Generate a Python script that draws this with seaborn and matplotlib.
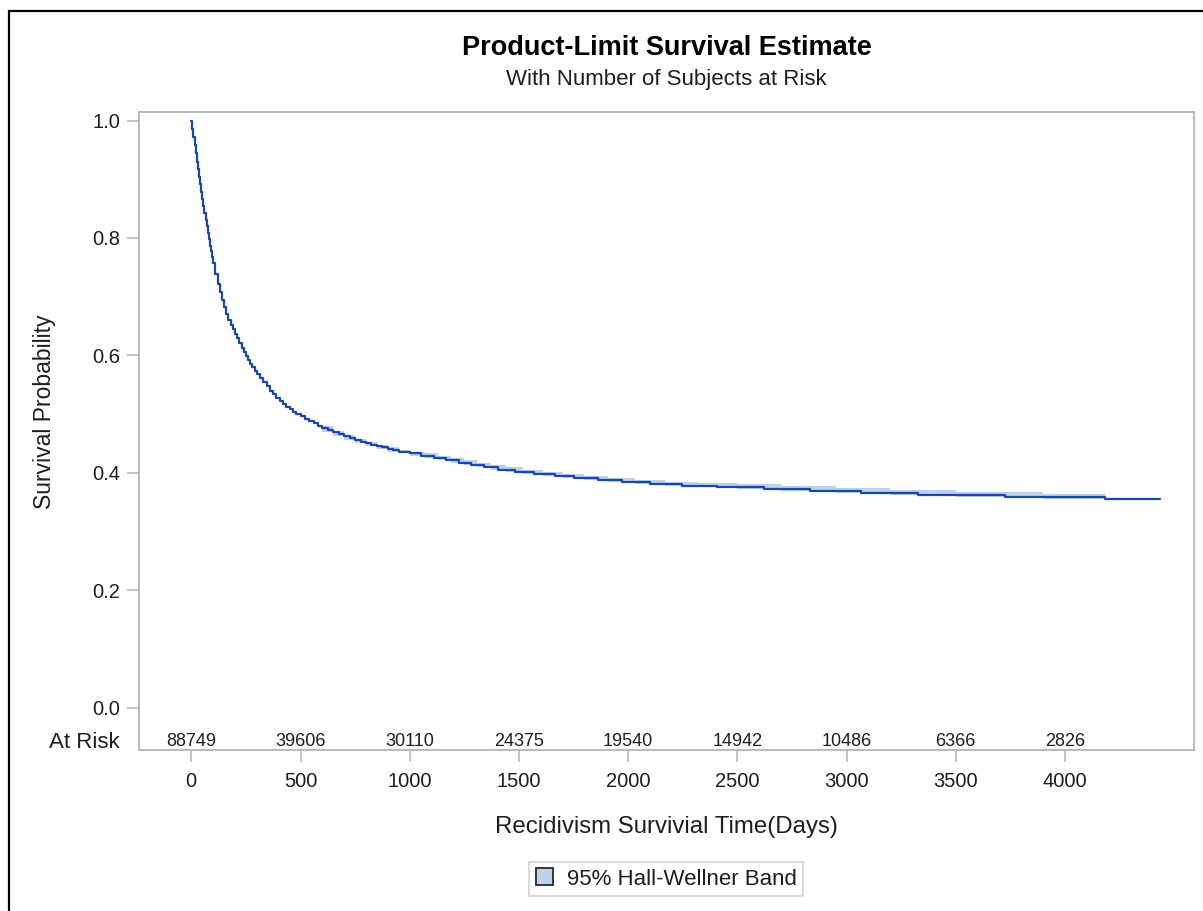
import matplotlib
matplotlib.use("Agg")
import matplotlib.pyplot as plt
from matplotlib.patches import Patch, Rectangle
from matplotlib.ticker import FormatStrFormatter
import pandas as pd
import seaborn as sns

# Kaplan-Meier estimate (days, survival probability)
surv_time = [0, 5, 10, 15, 20, 25, 30, 35, 40, 45,
             50, 55, 60, 65, 70, 75, 80, 85, 90, 95,
             100, 110, 120, 130, 140, 150, 160, 170, 180, 190,
             200, 210, 220, 230, 240, 250, 260, 270, 280, 290,
             300, 315, 330, 345, 360, 375, 390, 405, 420, 435,
             450, 465, 480, 500, 520, 540, 560, 580, 600, 625,
             650, 675, 700, 725, 750, 775, 800, 825, 850, 875,
             900, 925, 950, 975, 1000, 1050, 1110, 1165, 1225, 1280,
             1340, 1405, 1480, 1570, 1665, 1750, 1860, 1970, 2100, 2245,
             2405, 2620, 2833, 3066, 3327, 3727, 4184, 4436]
surv_prob = [1.000, 0.986, 0.972, 0.958, 0.944, 0.930, 0.917, 0.904, 0.891, 0.878,
             0.866, 0.854, 0.842, 0.831, 0.820, 0.809, 0.798, 0.787, 0.777, 0.767,
             0.757, 0.739, 0.721, 0.707, 0.694, 0.682, 0.670, 0.661, 0.652, 0.644,
             0.637, 0.629, 0.621, 0.613, 0.605, 0.598, 0.592, 0.586, 0.580, 0.574,
             0.569, 0.561, 0.554, 0.547, 0.540, 0.534, 0.528, 0.522, 0.517, 0.512,
             0.508, 0.504, 0.500, 0.496, 0.492, 0.488, 0.484, 0.480, 0.477, 0.473,
             0.469, 0.4655, 0.462, 0.459, 0.456, 0.453, 0.450, 0.4475, 0.445, 0.443,
             0.441, 0.4385, 0.436, 0.4345, 0.433, 0.429, 0.425, 0.421, 0.417, 0.413,
             0.409, 0.405, 0.401, 0.3975, 0.394, 0.3905, 0.387, 0.384, 0.381, 0.378,
             0.375, 0.372, 0.369, 0.366, 0.3625, 0.359, 0.3547, 0.3547]

# 95% Hall-Wellner confidence band
band_time = [600, 650, 700, 750, 800, 850, 900, 950, 1000,
             1070, 1130, 1190, 1250, 1310, 1370, 1440, 1520, 1610, 1700,
             1800, 1910, 2030, 2170, 2320, 2500, 2700, 2950, 3200, 3500,
             3900, 4184]
band_upper = [0.479, 0.471, 0.464, 0.458, 0.452, 0.447, 0.443, 0.438, 0.436,
              0.433, 0.429, 0.425, 0.421, 0.417, 0.413, 0.409, 0.405, 0.4015, 0.398,
              0.3945, 0.391, 0.388, 0.385, 0.383, 0.380, 0.377, 0.374, 0.371, 0.3675,
              0.364, 0.364]
band_lower = [0.469, 0.462, 0.456, 0.450, 0.445, 0.441, 0.436, 0.433, 0.429,
              0.425, 0.421, 0.417, 0.413, 0.409, 0.405, 0.401, 0.3975, 0.394, 0.3905,
              0.387, 0.384, 0.381, 0.378, 0.375, 0.372, 0.369, 0.366, 0.3625, 0.359,
              0.3547, 0.3547]

# Number of subjects at risk
risk_time = [0, 500, 1000, 1500, 2000, 2500, 3000, 3500, 4000]
risk_count = [88749, 39606, 30110, 24375, 19540, 14942, 10486, 6366, 2826]

y_ticks = [0.0, 0.2, 0.4, 0.6, 0.8, 1.0]

LINE = "#1b47a6"
BAND = "#bcd2ea"
FRAME = "#b4b4b4"
TEXT = "#1e1e1e"

sns.set_theme(style="white")
plt.rcParams["font.family"] = ["Liberation Sans", "DejaVu Sans"]

W, H = 1203, 911
fig = plt.figure(figsize=(W / 100, H / 100), dpi=100)
fig.patch.set_facecolor("white")

left, right, top, bottom = 139, 1194, 112, 750
ax = fig.add_axes([left / W, 1 - bottom / H, (right - left) / W, (bottom - top) / H])

ax.fill_between(band_time, band_lower, band_upper, step="post",
                color=BAND, linewidth=0, zorder=1)

df = pd.DataFrame({"time": surv_time, "survival": surv_prob})
sns.lineplot(data=df, x="time", y="survival", estimator=None, drawstyle="steps-post",
             color=LINE, linewidth=1.6, ax=ax, legend=False, zorder=2)

ax.set_xlim(-239.5, 4591)
ax.set_ylim(-0.0724, 1.0145)
ax.set_xlabel("")
ax.set_ylabel("")
ax.set_xticks(risk_time)
ax.set_yticks(y_ticks)
ax.yaxis.set_major_formatter(FormatStrFormatter("%.1f"))
ax.tick_params(axis="both", direction="out", length=8.5, width=1.1, color=FRAME,
               labelsize=14.5, labelcolor=TEXT, left=True, bottom=True)
ax.tick_params(axis="x", pad=7)
ax.tick_params(axis="y", pad=5)
for sp in ax.spines.values():
    sp.set_visible(True)
    sp.set_color(FRAME)
    sp.set_linewidth(1.3)

# at-risk row inside the plot area
risk_y = (bottom - 742) / (bottom - top)
for t, n in zip(risk_time, risk_count):
    ax.text(t, risk_y, f"{n}", transform=ax.get_xaxis_transform(),
            ha="center", va="center", fontsize=13, color=TEXT)
fig.text(120 / W, 1 - 742 / H, "At Risk", ha="right", va="center",
         fontsize=16, color=TEXT)

# titles and axis labels
cx = (left + right) / 2 / W
fig.text(cx, 1 - 48 / H, "Product-Limit Survival Estimate", ha="center", va="center",
         fontsize=19.5, fontweight="bold", color="black")
fig.text(cx, 1 - 79 / H, "With Number of Subjects at Risk", ha="center", va="center",
         fontsize=16, color=TEXT)
fig.text(cx, 1 - 827 / H, "Recidivism Survivial Time(Days)", ha="center", va="center",
         fontsize=17.3, color=TEXT)
fig.text(45 / W, 1 - 412 / H, "Survival Probability", ha="center", va="center",
         rotation=90, fontsize=16.5, color=TEXT)

handle = Patch(facecolor=BAND, edgecolor="#2a2a2a", linewidth=1.3)
leg = fig.legend([handle], ["95% Hall-Wellner Band"], loc="center",
                 bbox_to_anchor=(666 / W, 1 - 879 / H), frameon=True, fancybox=False,
                 fontsize=16, handlelength=0.8, handleheight=0.8, handletextpad=0.6,
                 borderpad=0.3, labelcolor=TEXT)
leg.get_frame().set_edgecolor("#c8c8c8")
leg.get_frame().set_linewidth(1.2)

# outer frame of the graph area
fig.add_artist(Rectangle((9 / W, -0.05), 1.2, 1 - 11 / H + 0.05, transform=fig.transFigure,
                         fill=False, edgecolor="black", linewidth=1.6))

fig.savefig("out.png", dpi=100, facecolor="white")
